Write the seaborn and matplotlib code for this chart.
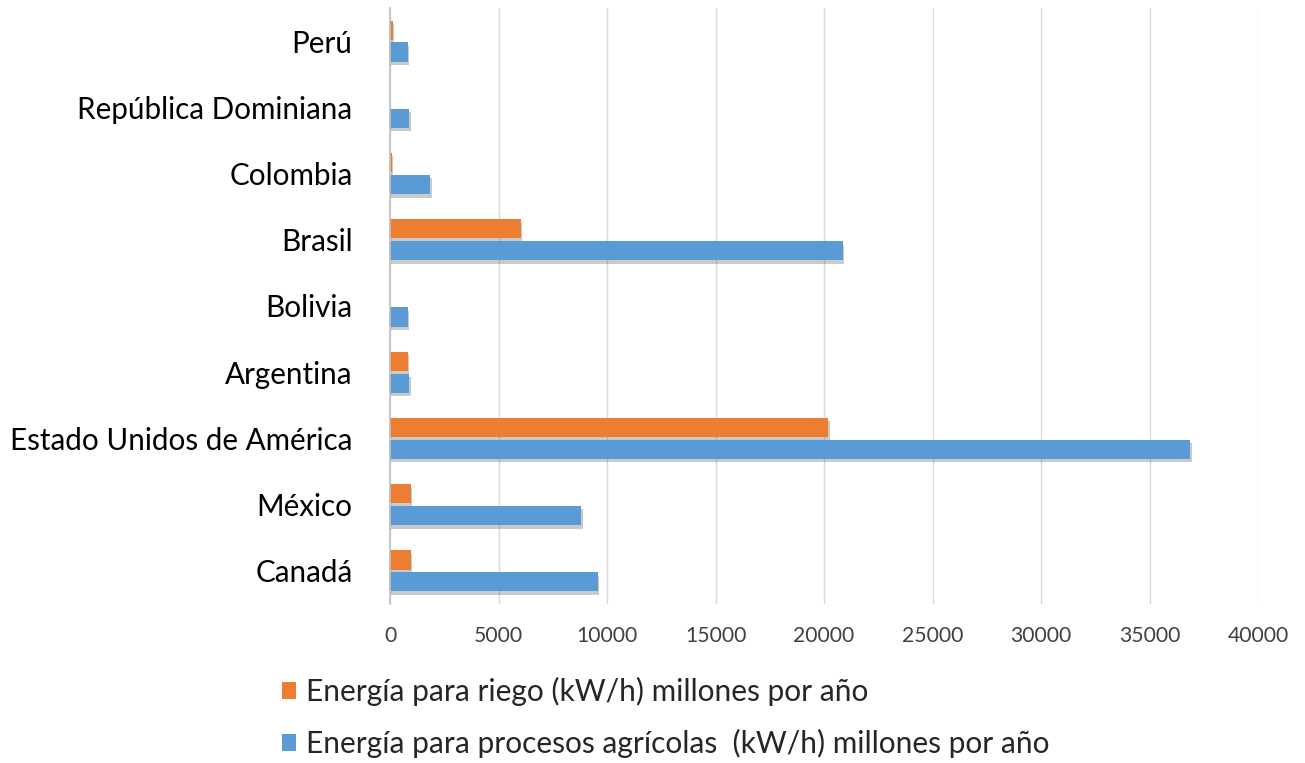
import seaborn as sns
import pandas as pd
import matplotlib.pyplot as plt
import matplotlib.patheffects as pe


paises = ["Perú", "República Dominiana", "Colombia", "Brasil", "Bolivia",
          "Argentina", "Estado Unidos de América", "México", "Canadá"]
riego = [130, 0, 90, 6030, 0, 820, 20200, 950, 950]
procesos = [820, 890, 1850, 20870, 820, 890, 36880, 8820, 9590]
serie_riego = "Energía para riego (kW/h) millones por año"
serie_procesos = "Energía para procesos agrícolas  (kW/h) millones por año"
ticks_x = [0, 5000, 10000, 15000, 20000, 25000, 30000, 35000, 40000]

mydata = pd.DataFrame({
    "pais": paises * 2,
    "valor": riego + procesos,
    "serie": [serie_riego] * len(paises) + [serie_procesos] * len(paises),
})

sns.set_style("white")
plt.rcParams["font.family"] = ["Lato", "DejaVu Sans"]

fig = plt.figure(figsize=(13.05, 7.63), dpi=100)
ax = fig.add_axes([390 / 1305, 1 - 604 / 763, 868 / 1305, 596 / 763])

sns.barplot(data=mydata, x="valor", y="pais", hue="serie", orient="h",
            palette=["#ED7D31", "#5B9BD5"], width=0.66, gap=0.12,
            saturation=1, linewidth=0, ax=ax, legend=True)

handles, labels = ax.get_legend_handles_labels()
ax.get_legend().remove()

# sombra tipo excel
for p in ax.patches:
    p.set_path_effects([pe.SimplePatchShadow(offset=(1, -2.5), shadow_rgbFace="#505050", alpha=0.3),
                        pe.Normal()])

ax.set_xlim(0, 40000)
ax.set_ylim(8.5, -0.5)
ax.set_xticks(ticks_x)
ax.set_xticklabels([str(t) for t in ticks_x])
ax.xaxis.grid(True, color="#D9D9D9", linewidth=1)
ax.set_axisbelow(True)
ax.set_xlabel("")
ax.set_ylabel("")
for s in ["top", "right", "bottom"]:
    ax.spines[s].set_visible(False)
ax.spines["left"].set_color("#BFBFBF")
ax.spines["left"].set_linewidth(1.2)
ax.tick_params(axis="x", length=0, pad=16, labelsize=15.2, labelcolor="#404040")
ax.tick_params(axis="y", length=0, pad=27, labelsize=21.3, labelcolor="#000000")

leg = fig.legend(handles, labels, loc="upper left", bbox_to_anchor=(282 / 1305, 1 - 677 / 763),
                 frameon=False, fontsize=21.5, ncol=1, borderpad=0, borderaxespad=0,
                 handlelength=0.47, handleheight=0.47, handletextpad=0.33, labelspacing=0.77)
for h in leg.legend_handles:
    h.set_path_effects([])

plt.savefig("out.png", dpi=100)
